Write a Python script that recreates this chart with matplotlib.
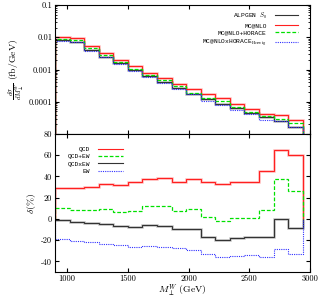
import numpy as np
import matplotlib
matplotlib.use("Agg")
import matplotlib.pyplot as plt

plt.rcParams['font.family'] = 'serif'
plt.rcParams['font.serif'] = ['cmr10', 'DejaVu Serif']
plt.rcParams['mathtext.fontset'] = 'cm'
plt.rcParams['axes.unicode_minus'] = False

# bin edges (GeV)
edges = [900, 1020, 1140, 1260, 1380, 1500, 1620, 1740, 1860, 1980,
         2100, 2220, 2340, 2460, 2580, 2700, 2820, 2940]

# top panel: dsigma/dM (fb/GeV)
alpgen = [0.00793, 0.00719, 0.00402, 0.00251, 0.00156, 0.000955, 0.000618,
          0.000398, 0.000261, 0.000180, 0.000121, 0.0000851, 0.0000630,
          0.0000462, 0.0000335, 0.0000258, 0.0000170]
mcnlo = [0.0102, 0.00952, 0.00532, 0.00333, 0.00200, 0.00131, 0.000763,
         0.000553, 0.000363, 0.000244, 0.000175, 0.000127, 0.0000851,
         0.0000612, 0.0000423, 0.0000402, 0.0000264]
mcnlo_plus = [0.00888, 0.00811, 0.00453, 0.00289, 0.00173, 0.00104, 0.000683,
              0.000458, 0.000307, 0.000193, 0.000132, 0.000105, 0.0000705,
              0.0000485, 0.0000349, 0.0000297, 0.0000220]
mcnlo_x = [0.00771, 0.00690, 0.00375, 0.00238, 0.00146, 0.000923, 0.000605,
           0.000390, 0.000256, 0.000171, 0.000107, 0.0000794, 0.0000558,
           0.0000413, 0.0000277, 0.0000262, 0.0000162]

# bottom panel: delta (%)
qcd = [29.2, 29.2, 30.4, 33.2, 31.6, 34.4, 37.3, 38.2, 34.4, 37.6,
       34.4, 32.5, 35.1, 35.1, 45.2, 65.2, 59.8]
qcd_ew = [10.0, 8.1, 8.1, 9.0, 6.6, 7.8, 11.9, 11.9, 7.1, 9.4,
          1.9, -2.3, 0.6, 0.9, 8.7, 37.6, 26.0]
qcdxew = [-0.7, -2.5, -3.5, -4.7, -6.3, -7.5, -6.0, -6.3, -9.4, -9.4,
          -16.9, -19.5, -18.3, -16.9, -16.9, 0.0, -8.5]
ew = [-18.5, -20.4, -21.7, -23.5, -24.5, -26.7, -25.4, -26.0, -27.0, -28.9,
      -33.0, -35.7, -34.5, -33.9, -35.7, -27.9, -32.6]

red = '#ff2020'
green = '#00e000'
dark = '#333333'
blue = '#3030ff'
legfont = {'family': 'Liberation Mono', 'size': 4.5}

fig = plt.figure(figsize=(3.22, 3.00), dpi=100)
ax1 = fig.add_axes([55/322, 1-134/300, 255/322, 129/300])
ax2 = fig.add_axes([55/322, 1-272/300, 255/322, 138/300])

# top panel (wide faint copies give the soft halo seen on the solid lines)
ax1.stairs(alpgen, edges, baseline=1e-6, color=dark, lw=1.8, alpha=0.3)
ax1.stairs(mcnlo, edges, baseline=1e-6, color=red, lw=1.8, alpha=0.3)
ax1.stairs(alpgen, edges, baseline=1e-6, color=dark, lw=0.8, label=r'ALPGEN $S_0$')
ax1.stairs(mcnlo, edges, baseline=1e-6, color=red, lw=0.8, label='MC@NLO')
ax1.stairs(mcnlo_plus, edges, baseline=1e-6, color=green, lw=0.9, ls=(0, (3, 1.5)),
           label='MC@NLO+HORACE')
ax1.stairs(mcnlo_x, edges, baseline=1e-6, color=blue, lw=0.8, ls=(0, (1, 1)),
           label=r'MC@NLOxHORACE$_{\rm Herwig}$')
ax1.set_yscale('log')
ax1.set_ylim(1e-5, 0.1)
ax1.set_xlim(900, 3000)
ax1.set_yticks([0.1, 0.01, 0.001, 0.0001])
ax1.set_yticklabels(['0.1', '0.01', '0.001', '0.0001'])
ax1.set_xticks([1000, 1500, 2000, 2500, 3000])
ax1.set_xticklabels([])
ax1.set_ylabel(r'$\frac{d\sigma}{dM_\perp^W}$ (fb/GeV)', fontsize=7, labelpad=1)
ax1.legend(loc='upper right', frameon=False, markerfirst=False, prop=legfont,
           handlelength=3.7, labelspacing=0.32, bbox_to_anchor=(0.975, 1.0),
           handletextpad=1.3)

# bottom panel
ax2.stairs(qcd, edges, baseline=0, color=red, lw=1.8, alpha=0.3)
ax2.stairs(qcdxew, edges, baseline=0, color=dark, lw=1.8, alpha=0.3)
ax2.stairs(qcd, edges, baseline=0, color=red, lw=0.8, label='QCD')
ax2.stairs(qcd_ew, edges, baseline=0, color=green, lw=0.9, ls=(0, (3, 1.5)), label='QCD+EW')
ax2.stairs(qcdxew, edges, baseline=0, color=dark, lw=0.8, label='QCDxEW')
ax2.stairs(ew, edges, baseline=0, color=blue, lw=0.8, ls=(0, (1, 1)), label='EW')
ax2.set_xlim(900, 3000)
ax2.set_ylim(-50, 80)
ax2.set_xticks([1000, 1500, 2000, 2500, 3000])
ax2.set_yticks([-40, -20, 0, 20, 40, 60, 80])
ax2.set_xlabel(r'$M_\perp^W$ (GeV)', fontsize=7, labelpad=0)
ax2.set_ylabel(r'$\delta(\%)$', fontsize=7, labelpad=2)
ax2.legend(loc='upper right', frameon=False, markerfirst=False, prop=legfont,
           handlelength=4.0, labelspacing=0.32, bbox_to_anchor=(0.29, 0.95),
           handletextpad=1.3)

for ax in (ax1, ax2):
    ax.tick_params(which='both', direction='in', top=True, right=True,
                   labelsize=6, pad=2)
    ax.tick_params(which='major', length=3)
    ax.tick_params(which='minor', length=1.5)
    for s in ax.spines.values():
        s.set_linewidth(0.8)

fig.savefig('out.png', dpi=100)
